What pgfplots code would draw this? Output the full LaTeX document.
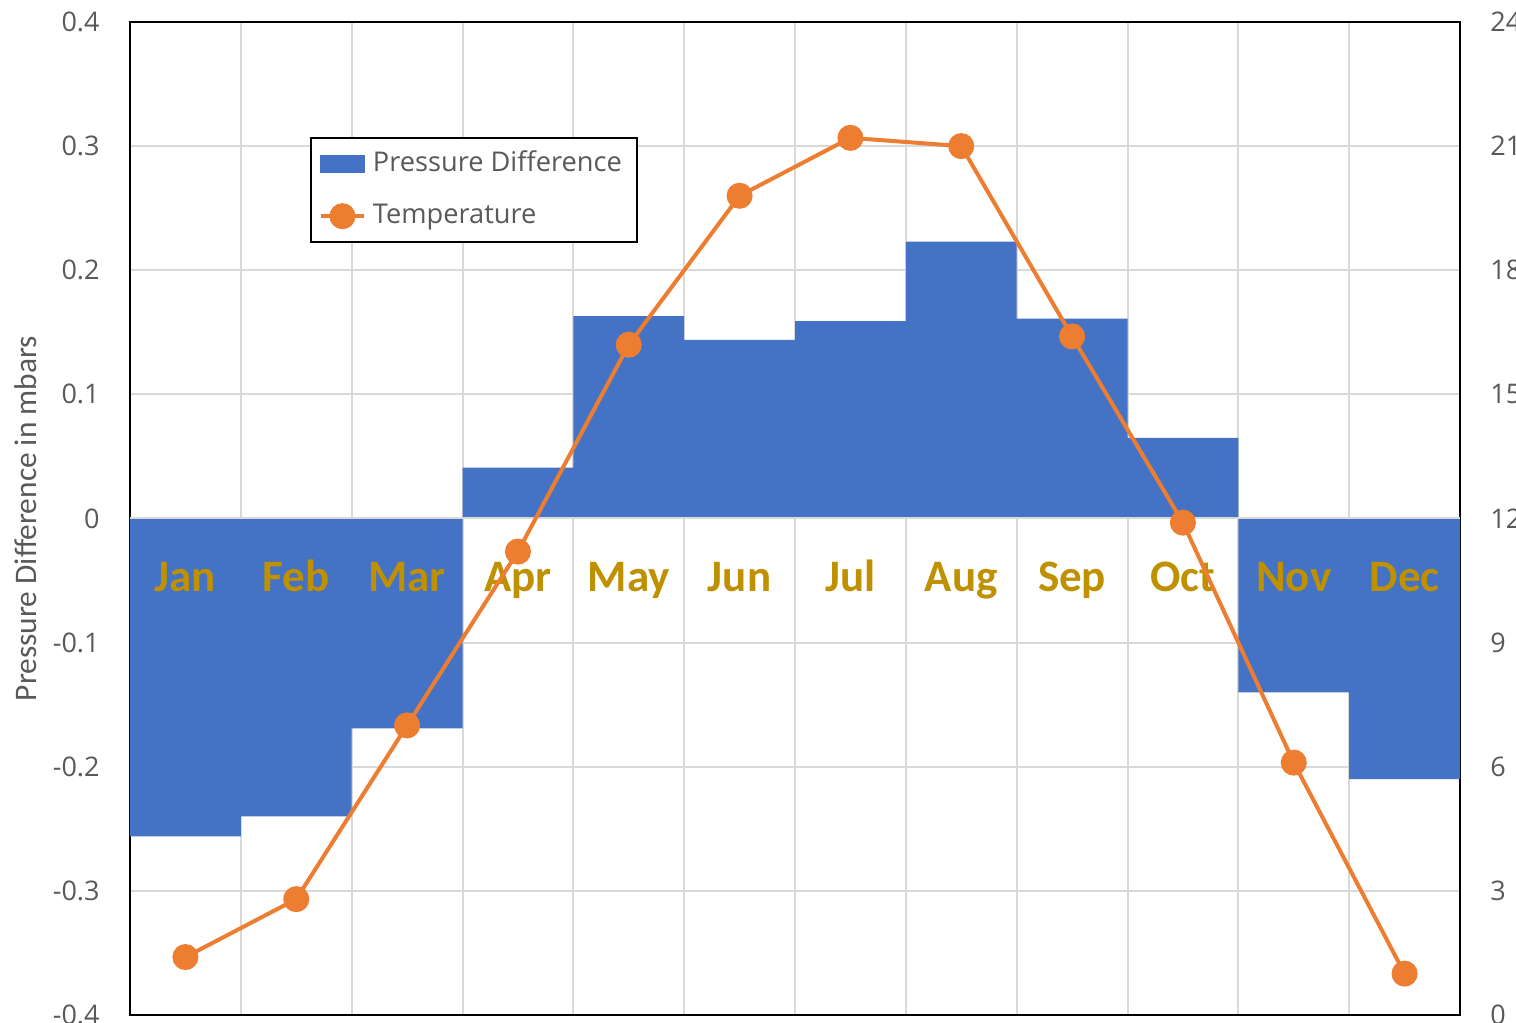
\documentclass[border=0pt]{standalone}
\usepackage{fontspec}
\setmainfont{Open Sans}
\newfontfamily\calibri{Carlito}
\usepackage{pgfplots}
\pgfplotsset{compat=1.18}
\definecolor{barblue}{HTML}{4472C4}
\definecolor{lineorange}{HTML}{ED7D31}
\definecolor{mgold}{HTML}{BF9000}
\definecolor{txtgray}{HTML}{595959}
\definecolor{gridgray}{HTML}{D9D9D9}
\pgfplotsset{
  common/.style={
    scale only axis, width=665pt, height=496.5pt,
    xmin=0.5, xmax=12.5,
    major tick length=0pt,
    tick style={draw=none},
    /pgf/number format/assume math mode=true,
    ticklabel style={font=\fontsize{13.5}{15}\selectfont, text=txtgray},
  },
  linelegend/.style={legend image code/.code={\draw[mark repeat=2, mark phase=2, ##1] plot coordinates {(0pt,0pt) (10.75pt,0pt) (21.5pt,0pt)};}},
  barlegend/.style={legend image code/.code={\fill[barblue] (0pt,-4pt) rectangle (21.5pt,4pt);}},
}
\begin{document}
\begin{tikzpicture}
\begin{axis}[common,
  ymin=-0.4, ymax=0.4,
  xtick={0.5,1.5,2.5,3.5,4.5,5.5,6.5,7.5,8.5,9.5,10.5,11.5,12.5},
  xticklabels={},
  ytick={-0.4,-0.3,-0.2,-0.1,0,0.1,0.2,0.3,0.4},
  yticklabels={-0.4,-0.3,-0.2,-0.1,0,0.1,0.2,0.3,0.4},
  yticklabel style={anchor=east, inner sep=0pt, xshift=-15pt},
  grid=major, major grid style={gridgray, line width=1pt},
  axis line style={black, line width=1pt},
  ylabel={Pressure Difference in mbars},
  ylabel style={at={(axis description cs:-0.0782,0.5)}, anchor=center,
    font=\calibri\fontsize{15.7}{18}\selectfont, text=txtgray},
]
\addplot[ybar, bar width=1, bar shift=0pt, fill=barblue, draw=none] coordinates {
  (1,-0.256) (2,-0.240) (3,-0.169) (4,0.041) (5,0.163) (6,0.144)
  (7,0.159) (8,0.223) (9,0.161) (10,0.065) (11,-0.140) (12,-0.210)};
\draw[gridgray, line width=1pt] (axis cs:0.5,0) -- (axis cs:12.5,0);
\begin{scope}[every node/.style={font=\calibri\bfseries\fontsize{22.5}{26}\selectfont, text=mgold, anchor=base}]
\node at (axis cs:1,-0.0585) {Jan};
\node at (axis cs:2,-0.0585) {Feb};
\node at (axis cs:3,-0.0585) {Mar};
\node at (axis cs:4,-0.0585) {Apr};
\node at (axis cs:5,-0.0585) {May};
\node at (axis cs:6,-0.0585) {Jun};
\node at (axis cs:7,-0.0585) {Jul};
\node at (axis cs:8,-0.0585) {Aug};
\node at (axis cs:9,-0.0585) {Sep};
\node at (axis cs:10,-0.0585) {Oct};
\node at (axis cs:11,-0.0585) {Nov};
\node at (axis cs:12,-0.0585) {Dec};
\end{scope}
\coordinate (SW) at (rel axis cs:0,0);
\coordinate (NE) at (rel axis cs:1,1);
\end{axis}
\begin{axis}[common,
  ymin=0, ymax=24,
  axis x line=none,
  axis y line*=right,
  axis line style={draw=none},
  ytick={0,3,6,9,12,15,18,21,24},
  yticklabels={0,3,6,9,12,15,18,21,24},
  yticklabel style={anchor=west, inner sep=0pt, xshift=15pt},
  legend cell align=left,
  legend style={at={(rel axis cs:0.1353,0.884)}, anchor=north west,
    draw=black, line width=1pt, fill=white,
    font=\fontsize{13.6}{15}\selectfont, text=txtgray,
    inner xsep=4pt, inner ysep=6.5pt, row sep=13pt,
    nodes={inner ysep=0pt, inner xsep=3.5pt, text height=10pt, text depth=3pt}},
]
\addlegendimage{barlegend}
\addlegendentry{Pressure Difference}
\addplot[lineorange, line width=2pt, mark=*, mark size=5.5pt,
  mark options={fill=lineorange, draw=lineorange}, linelegend]
  coordinates {
  (1,1.4) (2,2.8) (3,7.0) (4,11.2) (5,16.2) (6,19.8)
  (7,21.2) (8,21.0) (9,16.4) (10,11.9) (11,6.1) (12,1.0)};
\addlegendentry{Temperature}
\end{axis}
\pgfresetboundingbox
\path[use as bounding box] ([shift={(-65pt,-4pt)}]SW) rectangle ([shift={(28pt,11pt)}]NE);
\end{tikzpicture}
\end{document}
